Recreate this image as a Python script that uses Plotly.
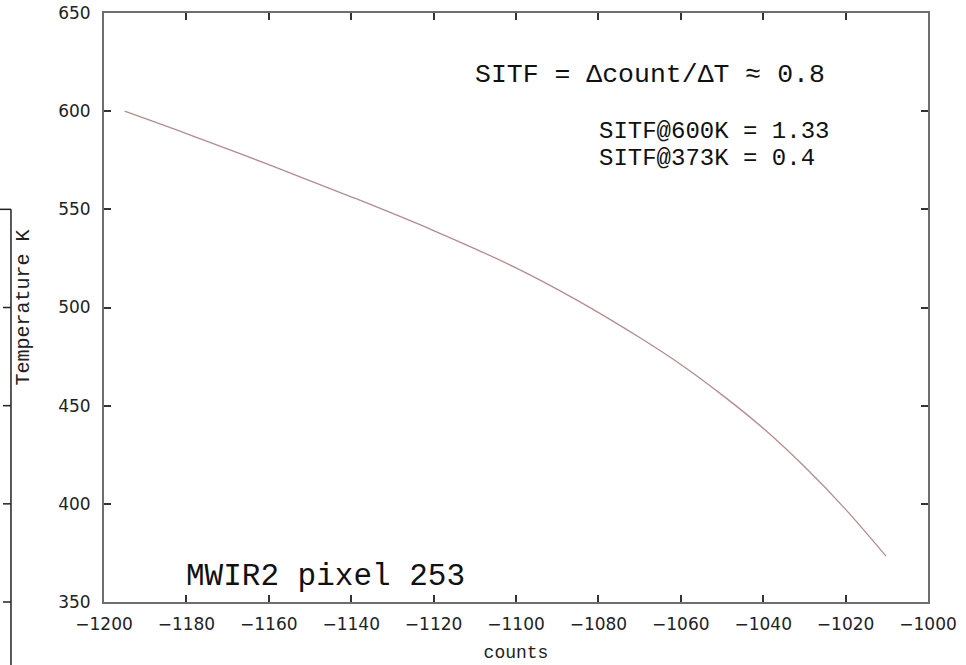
import plotly.graph_objects as go

# Data (counts vs temperature)
counts = [-1195, -1180, -1160, -1140, -1120, -1100, -1085, -1070, -1060, -1050,
          -1040, -1030, -1020, -1010.2]
temps = [600, 588.6, 572.8, 556.4, 539.2, 520.2, 503.5, 484.7, 471.0, 455.5,
         438.5, 419.0, 397.2, 373.4]

x_range = [-1200, -1000]
y_range = [350, 650]
x_ticks = list(range(-1200, -999, 20))
y_ticks = list(range(350, 651, 50))
bracket_vals = [550, 500, 450, 400, 350]

mono = "Courier New, Liberation Mono, monospace"
sans = "DejaVu Sans, Verdana, sans-serif"

fig = go.Figure()
fig.add_trace(go.Scatter(x=counts, y=temps, mode="lines",
                         line=dict(color="#b48c8c", width=1.3, shape="spline", smoothing=1),
                         showlegend=False, hoverinfo="x+y"))

axis_common = dict(showline=True, mirror="ticks", linecolor="#6e6e6e", linewidth=2,
                   ticks="inside", ticklen=7, tickwidth=1.5, tickcolor="#333",
                   showgrid=False, zeroline=False,
                   tickfont=dict(family=sans, size=17, color="#222"))

fig.update_xaxes(range=x_range, tickvals=x_ticks, ticktext=[f"\u2212{abs(v)}" for v in x_ticks],
                 title=dict(text="counts", font=dict(family=mono, size=18, color="#222"), standoff=12),
                 ticklabelstandoff=6,
                 **axis_common)
fig.update_yaxes(range=y_range, tickvals=y_ticks, ticktext=[str(v) for v in y_ticks],
                 title=dict(text="Temperature K", font=dict(family=mono, size=20, color="#222"), standoff=23),
                 ticklabelstandoff=8,
                 **axis_common)

ann_font = dict(family=mono, size=24, color="#111")
fig.add_annotation(x=-1110.5, y=618.4, xref="x", yref="y", text="SITF = \u0394count/\u0394T \u2248 0.8",
                   showarrow=False, xanchor="left", font=dict(family=mono, size=26.5, color="#111"))
fig.add_annotation(x=-1080.3, y=589.9, xref="x", yref="y", text="SITF@600K = 1.33",
                   showarrow=False, xanchor="left", font=ann_font)
fig.add_annotation(x=-1080.3, y=576.1, xref="x", yref="y", text="SITF@373K = 0.4",
                   showarrow=False, xanchor="left", font=ann_font)
fig.add_annotation(x=-1180.5, y=363.0, xref="x", yref="y", text="MWIR2 pixel 253",
                   showarrow=False, xanchor="left", font=dict(family=mono, size=31, color="#111"))

# Partial bracket (clipped axis of a neighbouring panel) at the far left edge
def vpaper(v):
    return (v - y_range[0]) / (y_range[1] - y_range[0])

bx = -0.1129
fig.add_shape(type="line", xref="paper", yref="paper", x0=bx, x1=bx,
              y0=vpaper(bracket_vals[0]), y1=-0.12, line=dict(color="#222", width=1.5))
fig.add_shape(type="line", xref="paper", yref="paper", x0=-0.127, x1=bx,
              y0=vpaper(bracket_vals[0]), y1=vpaper(bracket_vals[0]), line=dict(color="#222", width=1.5))
for v in bracket_vals[1:]:
    fig.add_shape(type="line", xref="paper", yref="paper", x0=-0.1226, x1=bx,
                  y0=vpaper(v), y1=vpaper(v), line=dict(color="#222", width=1.5))

fig.update_layout(width=966, height=665,
                  margin=dict(l=104, r=38, t=13, b=63, autoexpand=False),
                  plot_bgcolor="white", paper_bgcolor="white")

fig.write_html("out.html", config={"displayModeBar": False},
               post_script="document.body.style.margin='0';")
